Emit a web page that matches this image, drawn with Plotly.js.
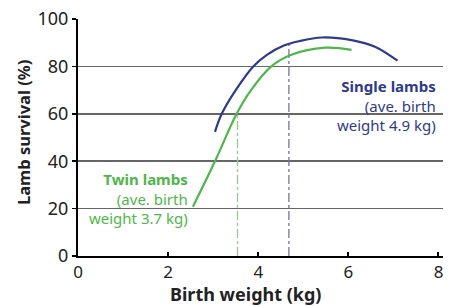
<!DOCTYPE html>
<html><head><meta charset="utf-8">
<script src="https://cdn.plot.ly/plotly-3.0.1.min.js"></script>
<style>body{margin:0;background:#fff}#c{width:452px;height:306px}</style>
</head><body><div id="c"></div>
<script>
// Single lambs survival curve
const singleX = [3.04, 3.19, 3.5, 3.89, 4.2, 4.57, 4.9, 5.41, 6.07, 6.59, 7.09];
const singleY = [52.4, 60, 70, 80, 85, 88.8, 90.6, 92.2, 91.1, 88.3, 82.4];
// Twin lambs survival curve
const twinX = [2.55, 3.04, 3.52, 3.84, 4.29, 4.72, 5.48, 6.07];
const twinY = [20.8, 40, 60, 70, 80, 84.8, 87.9, 87];
// Average birth weight marker lines
const twinAvgX = [3.54, 3.54];
const twinAvgY = [0, 60];
const singleAvgX = [4.68, 4.68];
const singleAvgY = [0, 89.5];
const xTicks = [0, 2, 4, 6, 8];
const yTicks = [0, 20, 40, 60, 80, 100];

const blue = '#2e3a8f', green = '#4cb848';
const data = [
  {x: twinAvgX, y: twinAvgY, mode: 'lines', line: {color: '#8fcf8a', width: 1.3, dash: 'dashdot'}, hoverinfo: 'skip'},
  {x: singleAvgX, y: singleAvgY, mode: 'lines', line: {color: '#7d6fa8', width: 1.3, dash: 'dashdot'}, hoverinfo: 'skip'},
  {x: singleX, y: singleY, mode: 'lines', line: {color: blue, width: 2.2, shape: 'spline', smoothing: 1}},
  {x: twinX, y: twinY, mode: 'lines', line: {color: green, width: 2.2, shape: 'spline', smoothing: 1}}
];
const font = 'Noto Sans, Open Sans, sans-serif';
const layout = {
  width: 452, height: 306,
  margin: {l: 78, r: 9, t: 19, b: 50},
  showlegend: false,
  paper_bgcolor: '#fff', plot_bgcolor: '#fff',
  font: {family: font, color: '#222'},
  xaxis: {range: [0, 8.1], tickvals: xTicks, ticktext: xTicks.map(String),
    showgrid: false, zeroline: false, showline: true, linecolor: '#000', linewidth: 2,
    ticks: 'inside', ticklen: 4, tickwidth: 2, tickcolor: '#000',
    tickfont: {size: 17, color: '#222', family: font}, fixedrange: true},
  yaxis: {range: [0, 100], tickvals: yTicks, ticktext: yTicks.map(String),
    showgrid: true, gridcolor: '#666', gridwidth: 1.5, zeroline: false,
    showline: true, linecolor: '#000', linewidth: 2,
    ticks: 'outside', ticklen: 4, tickwidth: 1.5, tickcolor: '#000',
    tickfont: {size: 18, color: '#222', family: font}, fixedrange: true},
  annotations: [
    {xref: 'paper', yref: 'paper', x: (245-78)/365, y: (256-294)/237, yanchor: 'middle', xanchor: 'center', showarrow: false,
     text: '<b>Birth weight (kg)</b>', font: {size: 18, color: '#222', family: font}},
    {xref: 'paper', yref: 'paper', x: (23-78)/365, y: (256-133)/237, textangle: -90, xanchor: 'center', yanchor: 'middle', showarrow: false,
     text: '<b>Lamb survival (%)</b>', font: {size: 16.5, color: '#222', family: font}},
    {xref: 'paper', yref: 'paper', x: 1 - 5/365, y: (256-106)/237, xanchor: 'right', yanchor: 'middle', align: 'right', showarrow: false,
     text: '<b>Single lambs</b><br>(ave. birth<br>weight 4.9 kg)', font: {size: 15, color: blue, family: font}},
    {xref: 'paper', yref: 'paper', x: (190-78)/365, y: (256-198)/237, xanchor: 'right', yanchor: 'middle', align: 'right', showarrow: false,
     text: '<b>Twin lambs</b><br>(ave. birth<br>weight 3.7 kg)', font: {size: 15, color: green, family: font}}
  ]
};
Plotly.newPlot('c', data, layout, {displayModeBar: false, staticPlot: true});
</script></body></html>
